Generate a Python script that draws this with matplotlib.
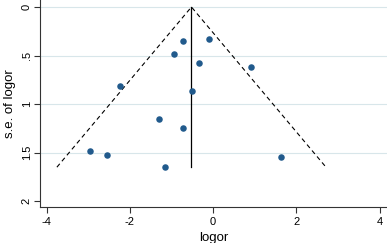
import matplotlib
matplotlib.use("Agg")
import matplotlib.pyplot as plt
import numpy as np

plt.rcParams['font.family'] = ['Liberation Sans', 'DejaVu Sans']

logor = [-0.73, -0.94, -2.24, -0.34, -0.50, -1.30, -0.72, -2.96, -2.55, -1.15, -0.10, 0.91, 1.63]
se = [0.347, 0.48, 0.815, 0.58, 0.87, 1.155, 1.245, 1.48, 1.52, 1.65, 0.333, 0.62, 1.55]
pooled = -0.52
se_max = 1.65
xticks = [-4, -2, 0, 2, 4]
yticks = [0, 0.5, 1, 1.5, 2]
yticklabels = ['0', '.5', '1', '1.5', '2']

fig = plt.figure(figsize=(3.87, 2.43), dpi=100)
ax = fig.add_axes([40/387, 36/243, 1 - 40/387, 1 - 36/243])

for g in [0, 0.5, 1, 1.5]:
    ax.axhline(g, color='#d8e6ea', lw=0.8, zorder=0)

ax.plot([pooled - 1.96*se_max, pooled, pooled + 1.96*se_max], [se_max, 0, se_max],
        ls=(0, (4, 3)), color='black', lw=0.8, zorder=2)
ax.plot([pooled, pooled], [0, se_max], color='black', lw=0.9, zorder=2)
ax.scatter(logor, se, s=22, color='#215a8c', zorder=3, linewidths=0)

ax.set_xlim(-4.16, 4.18)
ax.set_ylim(2.06, -0.072)
ax.set_xticks(xticks)
ax.set_xticklabels([str(t) for t in xticks])
ax.set_yticks(yticks)
ax.set_yticklabels(yticklabels, rotation=90, va='center')
ax.tick_params(labelsize=8, length=4, width=0.8, colors='#333333', labelcolor='black')
ax.tick_params(axis='y', pad=2)
ax.spines['top'].set_visible(False)
ax.spines['right'].set_visible(False)
ax.spines['left'].set_color('#333333')
ax.spines['bottom'].set_color('#333333')
ax.set_xlabel('logor', fontsize=9.5, labelpad=3)
ax.set_ylabel('s.e. of logor', fontsize=9.5, labelpad=4)

fig.savefig('out.png', dpi=100)
